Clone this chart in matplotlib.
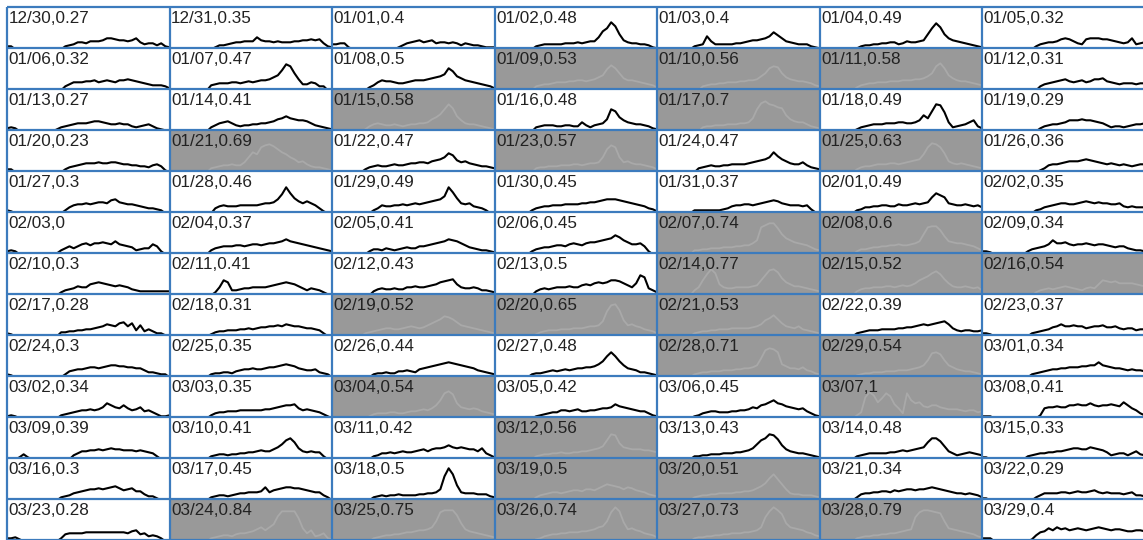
import numpy as np
import pandas as pd
import matplotlib
matplotlib.use("Agg")
import matplotlib.pyplot as plt

# ---- data -------------------------------------------------------------
start_day = "2019-12-30"
n_days = 91
days = pd.date_range(start_day, periods=n_days, freq="D")
day_labels = list(days.strftime("%m/%d"))

# daily score printed next to each date; days above the threshold are shaded
threshold = 0.5
scores = [
    0.27, 0.35, 0.40, 0.48, 0.40, 0.49, 0.32,
    0.32, 0.47, 0.498, 0.53, 0.56, 0.58, 0.31,
    0.27, 0.41, 0.58, 0.48, 0.70, 0.49, 0.29,
    0.23, 0.69, 0.47, 0.57, 0.47, 0.63, 0.36,
    0.30, 0.46, 0.49, 0.45, 0.37, 0.49, 0.35,
    0.00, 0.37, 0.41, 0.45, 0.74, 0.60, 0.34,
    0.30, 0.41, 0.43, 0.497, 0.77, 0.52, 0.54,
    0.28, 0.31, 0.52, 0.65, 0.53, 0.39, 0.37,
    0.30, 0.35, 0.44, 0.48, 0.71, 0.54, 0.34,
    0.34, 0.35, 0.54, 0.42, 0.45, 1.00, 0.41,
    0.39, 0.41, 0.42, 0.56, 0.43, 0.48, 0.33,
    0.30, 0.45, 0.499, 0.503, 0.51, 0.34, 0.29,
    0.28, 0.84, 0.75, 0.74, 0.73, 0.79, 0.40,
]

# intraday profile of each day, one base-36 character per sample
profiles = [
    "33" "000000000000" "3457768889bba9989b75664632",
    "00000000000" "24456778" "88c98878" "7778899a" "9a632",
    "55662" "00000000000" "24678978" "96776764" "65443222",
    "0000000000" "3455555666" "76788cilrn" "f976655421",
    "000000000" "345d855555" "667899abdh" "eb876555321",
    "0000000001" "3445566775" "687789flqm" "fb98765432",
    "2000000000000" "356778aba8" "65abbbaa98" "767b567",

    "00000000000000" "4688899a89" "a98aaba987" "655542",
    "0000000000" "5677788789" "89aabdfkqo" "hb66874400",
    "000000000" "358a998778" "9aaabcdegm" "jeca9876542",
    "0000000000" "4566788899" "aa9abdflpm" "hcaa987653",
    "00000000000" "45667788899aab" "ehmonhdba998754",
    "0000000003" "5677888999" "aaabbcehor" "mfca998765",
    "00000000000000" "46789ab989" "a89bbc9876" "777677",

    "343" "000000000" "245678889a" "a987787754" "56753210",
    "0000000000" "4689a86566" "77889acdfd" "cbba865432",
    "00000000" "2578766765" "677889cehm" "rnfb877654" "32",
    "0000000000" "4566655665" "5964678cmk" "eb98776532",
    "00000000000" "4556667778" "89dmsurqon" "gca997543",
    "0000000002" "4567778889" "9889bgdkrq" "j945679b53",
    "00000000000000" "3567789bbb" "cbba986455" "456778",

    "33" "000000000000" "35678999a9" "9aa9887766" "578620",
    "0000000000" "45677877af" "kiprsqnkif" "dab8655432",
    "00000000" "3567667877" "899aa9bcdf" "jhcab98766" "54",
    "0000000000" "4556667778" "87899afnrp" "fab9887653",
    "0000000000" "4567667788" "889abcdfkg" "db988a7543",
    "0000000003" "5667888998" "9abcdiptsp" "jb98987654",
    "00000000000000" "2" "47889abbbc" "dcba989878" "76788",

    "32" "000000000000" "36899a9abb" "adeba99876" "554300",
    "00000000000" "5787778888" "89aabejqkf" "caca85200",
    "0000000000" "3587788989" "a9abcdehql" "fa9a765300",
    "000000000" "3567788899" "99aabbcdee" "edcba987542",
    "000000000" "3333333457" "889989abcd" "ca988878410",
    "0000000003" "4667788779" "889a9abgki" "ga98898786",
    "0000000000000" "346789aa99" "abcbabaa99" "a767666",

    "343" "000000000" "1" "46868ab9bb" "cbada98745" "66a8300",
    "0000000000" "4678889989" "aa9abbcdfd" "cba9876543",
    "0000000003" "5546545676" "6889abcdfe" "db97654432",
    "000000000" "356778998a" "ba9bccdefg" "jhecaab8300",
    "000000000" "4455666777" "8899bertvv" "qkgecba9754",
    "0000000003" "556778899a" "99abdkrsso" "idcbba9864",
    "332" "00000000" "35678aebbc" "a9aaba9aa9" "878865443",

    "0000000000000" "3567988bcd" "cba9a98654" "4444444",
    "00000000000" "38fd556778" "8889abcdcb" "975765310",
    "0000000000" "4676676688" "9889abdefg" "b877875543",
    "0000000000" "4676788898" "8abacdcdff" "eca8cki753",
    "000000000" "58flqmb877" "88889afkpq" "nhdb9987654",
    "0000000004" "6778889989" "a9acfhjmol" "gc98898785",
    "0000000000000" "3567678987" "65787bfede" "ccccba9",

    "32" "00000000000" "4455667789" "acbadead6b" "5753310",
    "0000000000" "2455666778" "7899aabacb" "aa98876300",
    "00000000" "3456788778" "9a989bdfhk" "jheba98765" "43",
    "0000000000" "2" "4566677788" "89aabfpvwq" "gbca97653",
    "000000000" "3455667778" "88889acgil" "hda98a76543",
    "0000000003" "4566677778" "899abcbcde" "fc86566556",
    "332" "000000000" "345679acaa" "baa89aab99" "a8788677",

    "32" "000000000000" "367889aa9a" "bccbbaa997" "554330",
    "0000000000" "3445546788" "9889aabcdc" "b987785430",
    "0000000000" "3445446676" "589abcdefe" "dcba976543",
    "000000000" "3445676787" "899aabdglp" "lgc98755432",
    "000000000" "3455666777" "8899acjrts" "pdb998a7643",
    "0000000002" "3445556667" "7789achopn" "hca8766543",
    "000000000000" "345678899a" "aabbccfcba" "99878776",

    "232" "0000000000" "3456788989" "bfdbada89b" "7864223",
    "0000000000" "3566777888" "88899abcdd" "ea89876420",
    "000000000" "2455566556" "77898adipr" "ofba9a97654",
    "0000000000" "2345668878" "977889aabe" "cba9877532",
    "000000000" "2356776667" "7889badegi" "fecba9a7532",
    "0000000003" "6lqngkpmea" "5pifgcbddb" "a999878867",
    "222" "00000000000" "3abbcbbdde" "ddfdcddedc" "gda853",

    "000252" "0000000000" "468899a9ab" "aa99989876" "3000",
    "0000000000" "3455455667" "78988acfjl" "hb87877300",
    "0000000000" "3466767877" "89a8abbcec" "bcbaa8b642",
    "0000000000" "3" "4556676677" "889abdjpog" "cbaaa9987",
    "000000000" "3344555666" "7789bfjlpo" "kea87665432",
    "0000000003" "4566666778" "989abchlli" "d864567654",
    "22" "000000000" "3456677889" "abbaacba97" "456646854",

    "0000000000000" "345789abbc" "bcdecabc99" "6442000",
    "0000000000" "3455456778" "889d8abcdd" "ccba988530",
    "0000000000" "3454556555" "566778bowq" "f877766643",
    "0000000000" "356788789a" "a9bbacegfe" "dbdca98654",
    "000000000" "3455667777" "8899acehmq" "lgb76655543",
    "0000000003" "67788998a9" "abbabbcdcb" "a987767653",
    "22" "00000000000" "3577778878" "9889a87877" "7678554",

    "3342" "000000000" "3788889999" "9999998ab7" "8565300",
    "0000000000" "3456657889" "acebehpuuu" "und8b56832",
    "0000000000" "3456677899" "abbcektvvv" "qica987654",
    "0000000000" "2" "3567788999" "aabcefktyu" "jcdba8764",
    "000000000" "3445566778" "8899abeouy" "vriedcb9865",
    "0000000003" "4556677889" "abcotvvuts" "kdcba98754",
    "333" "000000000" "269adbecdb" "cdcbcdedcb" "ccbaabba",
]

# ---- layout (pixels) ---------------------------------------------------
W, H = 1143, 540
n_cols, n_rows = 7, 13
x0, y0 = 7.0, 7.3
cell_w, cell_h = 162.5, 41.0

grid_color = "#3c7bbd"
hot_bg = "#999999"
hot_line = "#a9a9a9"
text_color = "#222222"

fig = plt.figure(figsize=(W / 100, H / 100), dpi=100)
fig.patch.set_facecolor("white")

for i, (lab, score, prof) in enumerate(zip(day_labels, scores, profiles)):
    r, c = divmod(i, n_cols)
    left = x0 + c * cell_w
    top = y0 + r * cell_h
    ax = fig.add_axes([left / W, 1 - (top + cell_h) / H, cell_w / W, cell_h / H])
    hot = score > threshold
    ax.set_facecolor(hot_bg if hot else "white")
    level = np.array([int(ch, 36) for ch in prof], dtype=float)
    ax.plot(np.linspace(0, 1, level.size), level,
            color=hot_line if hot else "black",
            lw=1.3 if hot else 1.5, solid_joinstyle="round")
    ax.set_xlim(0, 1)
    ax.set_ylim(1, 1 + cell_h)
    ax.set_xticks([])
    ax.set_yticks([])
    for s in ax.spines.values():
        s.set_visible(False)
    ax.annotate(f"{lab},{round(score, 2):g}", xy=(0, 1), xycoords="axes fraction",
                xytext=(1.5, -3.5), textcoords="offset pixels",
                ha="left", va="top", fontsize=12.3, color=text_color,
                family=["Liberation Sans", "DejaVu Sans"])

# calendar grid drawn on top of all cells
grid = fig.add_axes([0, 0, 1, 1])
grid.set_xlim(0, W)
grid.set_ylim(H, 0)
grid.patch.set_alpha(0)
grid.axis("off")
xs = [x0 + k * cell_w for k in range(n_cols + 1)]
ys = [y0 + k * cell_h for k in range(n_rows + 1)]
grid.vlines(xs, ys[0], ys[-1], color=grid_color, lw=1.6)
grid.hlines(ys, xs[0], xs[-1], color=grid_color, lw=1.6)

fig.savefig("out.png", dpi=100)
